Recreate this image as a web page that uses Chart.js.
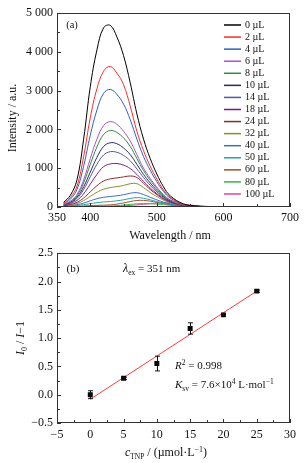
<!DOCTYPE html>
<html>
<head>
<meta charset="utf-8">
<script src="https://cdn.jsdelivr.net/npm/chart.js@4.4.1/dist/chart.umd.min.js"></script>
<style>
  body { margin: 0; background: #fff; }
  canvas { display: block; }
</style>
</head>
<body>
<canvas id="spectra" width="307" height="242"></canvas>
<canvas id="quench" width="307" height="221"></canvas>
<script>
const SERIF = '"Liberation Serif", "Times New Roman", serif';

//Wavelengths of the emission spectra (nm)
const wavelengths = [360, 370, 380, 390, 400, 410, 420, 430, 440, 450, 460, 470, 480, 490, 500, 510, 520, 540, 560, 580, 600, 650, 700];
//Added volume of TNP for each curve
const volumes = ['0 µL', '2 µL', '4 µL', '6 µL', '8 µL', '10 µL', '14 µL', '18 µL', '24 µL', '32 µL', '40 µL', '50 µL', '60 µL', '80 µL', '100 µL'];
//Intensity (a.u.) for each curve
const spec0 = [120, 300, 700, 1750, 3100, 4050, 4620, 4680, 4380, 3900, 3200, 2400, 1750, 1250, 850, 520, 290, 80, 25, 10, 4, 0, 0];
const spec2 = [100, 240, 540, 1300, 2300, 3050, 3500, 3620, 3450, 3150, 2600, 1950, 1450, 1050, 720, 440, 250, 70, 22, 9, 3, 0, 0];
const spec4 = [90, 200, 450, 1050, 1850, 2500, 2930, 3030, 2900, 2650, 2250, 1750, 1300, 950, 650, 400, 230, 65, 20, 8, 3, 0, 0];
const spec6 = [70, 150, 320, 700, 1250, 1750, 2100, 2200, 2130, 1950, 1700, 1350, 1000, 740, 510, 320, 185, 55, 18, 7, 3, 0, 0];
const spec8 = [65, 140, 290, 620, 1100, 1550, 1870, 1970, 1920, 1780, 1560, 1250, 940, 690, 480, 300, 175, 50, 17, 7, 3, 0, 0];
const spec10 = [60, 120, 250, 520, 900, 1280, 1560, 1655, 1630, 1520, 1350, 1100, 840, 620, 430, 270, 160, 45, 15, 6, 2, 0, 0];
const spec14 = [55, 110, 220, 450, 780, 1100, 1340, 1425, 1410, 1330, 1190, 980, 760, 560, 390, 250, 150, 42, 14, 6, 2, 0, 0];
const spec18 = [45, 90, 170, 340, 590, 840, 1040, 1110, 1120, 1080, 990, 840, 660, 490, 345, 220, 135, 38, 13, 5, 2, 0, 0];
const spec24 = [35, 65, 120, 230, 390, 550, 670, 725, 750, 775, 800, 760, 610, 450, 320, 205, 125, 35, 12, 5, 2, 0, 0];
const spec32 = [28, 50, 90, 165, 275, 380, 460, 500, 525, 555, 600, 600, 500, 375, 270, 175, 110, 32, 11, 5, 2, 0, 0];
const spec40 = [20, 35, 60, 100, 160, 215, 250, 270, 290, 315, 355, 370, 320, 250, 185, 125, 80, 25, 9, 4, 2, 0, 0];
const spec50 = [14, 24, 38, 60, 88, 112, 130, 142, 160, 185, 220, 242, 225, 185, 140, 98, 65, 22, 8, 4, 2, 0, 0];
const spec60 = [8, 12, 18, 26, 35, 42, 48, 55, 75, 105, 140, 168, 170, 150, 120, 88, 60, 22, 8, 4, 2, 0, 0];
const spec80 = [5, 7, 10, 13, 16, 19, 22, 26, 35, 50, 68, 82, 88, 85, 75, 60, 45, 20, 8, 4, 2, 0, 0];
const spec100 = [3, 4, 5, 6, 8, 10, 12, 15, 20, 30, 40, 55, 70, 85, 100, 105, 100, 70, 35, 12, 4, 0, 0];
const spectra = [spec0, spec2, spec4, spec6, spec8, spec10, spec14, spec18, spec24, spec32, spec40, spec50, spec60, spec80, spec100];
const waveTickLabels = [350, 400, 500, 600, 700];

//Stern-Volmer plot: c(TNP) in µmol/L against I0/I-1
const conc = [0, 5, 10, 15, 20, 25];
const ratio = [0.0, 0.29, 0.55, 1.17, 1.41, 1.83];
const ratioErr = [0.07, 0.02, 0.13, 0.10, 0.02, 0.02];
const fitX = [0, 25];
const fitY = [-0.08, 1.83];

//line colours of the spectra
const lineColors = ['#000000', '#ff2a2a', '#2f5fbf', '#b04fc4', '#2e8b3e', '#2a2a66', '#5555aa', '#7a1a8a',
  '#8b2a2a', '#8c8c2a', '#3a6fc0', '#2aa3a3', '#a0522d', '#3cb34a', '#d9479a'];

const font = (size, italic) => (italic ? 'italic ' : '') + size + 'px ' + SERIF;

//draw text made of pieces: [text, size, italic, dy]
function drawRich(ctx, parts, x, y, align) {
  let w = 0;
  parts.forEach(p => { ctx.font = font(p[1], p[2]); w += ctx.measureText(p[0]).width; });
  let cx = align === 'center' ? x - w / 2 : x;
  parts.forEach(p => {
    ctx.font = font(p[1], p[2]);
    ctx.fillText(p[0], cx, y + (p[3] || 0));
    cx += ctx.measureText(p[0]).width;
  });
}

//frame round the plot and inward tick marks
const frameTicks = {
  id: 'frameTicks',
  afterDraw(chart) {
    const { ctx, chartArea: a, scales: { x, y } } = chart;
    ctx.save();
    ctx.strokeStyle = '#333';
    ctx.lineWidth = 1;
    ctx.beginPath();
    x.ticks.forEach(t => {
      const px = Math.round(x.getPixelForValue(t.value)) + 0.5;
      ctx.moveTo(px, a.bottom);
      ctx.lineTo(px, a.bottom - (t.label ? 4 : 3));
    });
    y.ticks.forEach(t => {
      const py = Math.round(y.getPixelForValue(t.value)) + 0.5;
      ctx.moveTo(a.left, py);
      ctx.lineTo(a.left + (t.label ? 4 : 3), py);
    });
    ctx.stroke();
    ctx.strokeRect(Math.round(a.left) + 0.5, Math.round(a.top) + 0.5,
      Math.round(a.right - a.left) - 1, Math.round(a.bottom - a.top) - 1);
    ctx.restore();
  }
};

const tickFont = { family: SERIF, size: 12 };
const minus = s => String(s).replace('-', '\u2212');

//panel (a): legend, titles
const spectraText = {
  id: 'spectraText',
  afterDraw(chart) {
    const ctx = chart.ctx;
    ctx.save();
    ctx.fillStyle = '#111';
    ctx.textBaseline = 'middle';
    ctx.textAlign = 'left';
    chart.data.datasets.forEach((ds, i) => {
      const ly = 25 + i * 12.07;
      ctx.strokeStyle = ds.borderColor;
      ctx.lineWidth = 1.5;
      ctx.beginPath();
      ctx.moveTo(224, ly);
      ctx.lineTo(241, ly);
      ctx.stroke();
      ctx.font = font(10);
      ctx.fillText(ds.label, 245, ly);
    });
    ctx.textAlign = 'center';
    ctx.font = font(10.5);
    ctx.fillText('(a)', 72, 25);
    ctx.textAlign = 'left';
    ctx.textBaseline = 'alphabetic';
    drawRich(ctx, [['Wavelength / nm', 12]], 170, 239, 'center');
    ctx.translate(12, 118);
    ctx.rotate(-Math.PI / 2);
    drawRich(ctx, [['Intensity / a.u.', 12]], 0, 4, 'center');
    ctx.restore();
  }
};

//panel (b): error bars
const errorBars = {
  id: 'errorBars',
  afterDatasetsDraw(chart) {
    const { ctx, scales: { x, y } } = chart;
    ctx.save();
    ctx.strokeStyle = '#111';
    ctx.lineWidth = 1;
    ctx.beginPath();
    conc.forEach((c, i) => {
      const px = Math.round(x.getPixelForValue(c)) + 0.5;
      const top = y.getPixelForValue(ratio[i] + ratioErr[i]);
      const bot = y.getPixelForValue(ratio[i] - ratioErr[i]);
      ctx.moveTo(px, top); ctx.lineTo(px, bot);
      ctx.moveTo(px - 2.5, top); ctx.lineTo(px + 2.5, top);
      ctx.moveTo(px - 2.5, bot); ctx.lineTo(px + 2.5, bot);
    });
    ctx.stroke();
    ctx.restore();
  }
};

//panel (b): titles and notes
const quenchText = {
  id: 'quenchText',
  afterDraw(chart) {
    const ctx = chart.ctx;
    ctx.save();
    ctx.fillStyle = '#111';
    ctx.textAlign = 'left';
    ctx.textBaseline = 'alphabetic';
    drawRich(ctx, [['(b)', 11]], 73, 30, 'center');
    drawRich(ctx, [['\u03bb', 12, true], ['ex', 7.5, false, 2.5], [' = 351 nm', 11]], 123, 30);
    drawRich(ctx, [['R', 11, true], ['2', 7.5, false, -4], [' = 0.998', 11]], 175, 127);
    drawRich(ctx, [['K', 11, true], ['sv', 7.5, false, 2.5], [' = 7.6\u00d710', 11], ['4', 7.5, false, -4],
      [' L\u00b7mol', 11], ['\u22121', 7.5, false, -4]], 175, 146);
    drawRich(ctx, [['c', 12, true], ['TNP', 7.5, false, 2.5], [' / (\u00b5mol\u00b7L', 12], ['\u22121', 8, false, -4], [')', 12]], 166, 214, 'center');
    ctx.translate(24, 96);
    ctx.rotate(-Math.PI / 2);
    drawRich(ctx, [['I', 12, true], ['0', 8, false, 3], [' / ', 12], ['I', 12, true], ['\u22121', 12]], 0, 0, 'center');
    ctx.restore();
  }
};

new Chart(document.getElementById('spectra'), {
  type: 'line',
  plugins: [frameTicks, spectraText],
  data: {
    datasets: spectra.map((s, i) => ({
      label: volumes[i],
      data: wavelengths.map((w, j) => ({ x: w, y: s[j] })),
      borderColor: lineColors[i],
      borderWidth: 1,
      pointRadius: 0,
      tension: 0.4,
      fill: false,
    })),
  },
  options: {
    responsive: false,
    devicePixelRatio: 1,
    animation: false,
    events: [],
    layout: { padding: { left: 0, right: 17, top: 13, bottom: 0 } },
    plugins: { legend: { display: false }, tooltip: { enabled: false } },
    scales: {
      x: {
        type: 'linear', min: 350, max: 700,
        grid: { display: false, drawTicks: false },
        border: { display: false },
        afterFit: s => { s.height = 35; },
        ticks: {
          stepSize: 50, autoSkip: false, maxRotation: 0, padding: 4,
          color: '#111', font: tickFont,
          callback: v => waveTickLabels.includes(v) ? String(v) : '',
        },
      },
      y: {
        min: 0, max: 5000,
        grid: { display: false, drawTicks: false },
        border: { display: false },
        afterFit: s => { s.width = 57; },
        ticks: {
          stepSize: 500, autoSkip: false, padding: 4,
          color: '#111', font: tickFont,
          callback: v => v % 1000 === 0 ? (v === 0 ? '0' : (v / 1000) + ' 000') : '',
        },
      },
    },
  },
});

new Chart(document.getElementById('quench'), {
  type: 'scatter',
  plugins: [frameTicks, errorBars, quenchText],
  data: {
    datasets: [
      {
        data: conc.map((c, i) => ({ x: c, y: ratio[i] })),
        pointStyle: 'rect',
        pointRadius: 3.5,
        backgroundColor: '#000',
        borderWidth: 0,
      },
      {
        data: fitX.map((c, i) => ({ x: c, y: fitY[i] })),
        showLine: true,
        borderColor: '#ff3b3b',
        borderWidth: 1,
        pointRadius: 0,
      },
    ],
  },
  options: {
    responsive: false,
    devicePixelRatio: 1,
    animation: false,
    events: [],
    layout: { padding: { left: 0, right: 17, top: 11, bottom: 0 } },
    plugins: { legend: { display: false }, tooltip: { enabled: false } },
    scales: {
      x: {
        type: 'linear', min: -5, max: 30,
        grid: { display: false, drawTicks: false },
        border: { display: false },
        afterFit: s => { s.height = 40; },
        ticks: {
          stepSize: 2.5, autoSkip: false, maxRotation: 0, padding: 5,
          color: '#111', font: tickFont,
          callback: v => v % 5 === 0 ? minus(v) : '',
        },
      },
      y: {
        min: -0.5, max: 2.5,
        grid: { display: false, drawTicks: false },
        border: { display: false },
        afterFit: s => { s.width = 57; },
        ticks: {
          stepSize: 0.25, autoSkip: false, padding: 4,
          color: '#111', font: tickFont,
          callback: v => Math.abs(v * 2 - Math.round(v * 2)) < 1e-6 ? minus(v.toFixed(1)) : '',
        },
      },
    },
  },
});
</script>
</body>
</html>
